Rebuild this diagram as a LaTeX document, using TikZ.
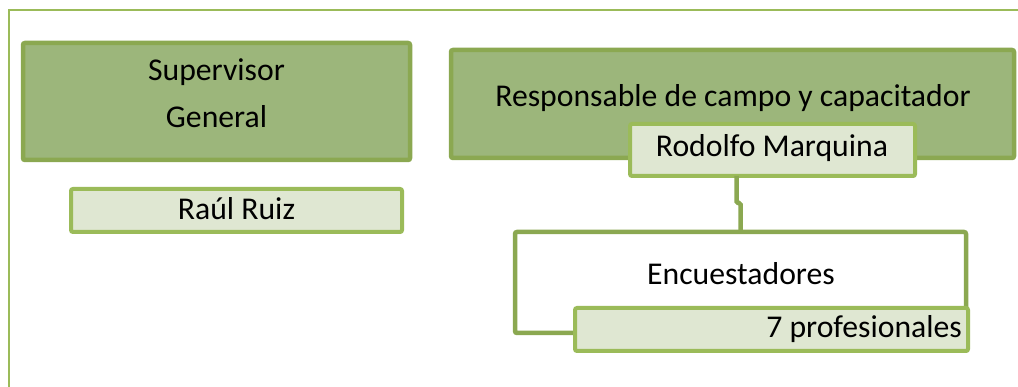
\documentclass[tikz,border=0pt]{standalone}
\usepackage{fontspec}
\setmainfont{Carlito}
\definecolor{darkfill}{HTML}{9CB67B}
\definecolor{darkline}{HTML}{8BA851}
\definecolor{lightfill}{HTML}{DFE7D2}
\definecolor{lightline}{HTML}{9BBB59}
\definecolor{frameline}{HTML}{9BBB59}
\tikzset{
  darkbox/.style={draw=darkline, fill=darkfill, line width=4.5pt, rounded corners=2pt, inner sep=0pt, outer sep=0pt},
  lightbox/.style={draw=lightline, fill=lightfill, line width=4pt, rounded corners=2pt, inner sep=0pt, outer sep=0pt},
  openbox/.style={draw=darkline, fill=white, line width=4.5pt, rounded corners=2pt, inner sep=0pt, outer sep=0pt},
  conn/.style={draw=darkline, line width=4.5pt, rounded corners=1.5pt},
  lbl/.style={inner sep=0pt, anchor=base, font=\fontsize{31.7}{38}\selectfont, text=black},
  frm/.style={draw=frameline, line width=2pt}
}
\begin{document}
\begin{tikzpicture}[x=1pt,y=-1pt]
\useasboundingbox (0,0) rectangle (1018,387);
\draw[frm] (9,387) -- (9,10) -- (1018,10);
\node[darkbox, minimum width=387, minimum height=117] (sup) at (216.5,101.5) {};
\node[lightbox, minimum width=331, minimum height=43] (raul) at (236.5,210.5) {};
\node[darkbox, minimum width=563, minimum height=108] (resp) at (732.5,104) {};
\node[openbox, minimum width=451, minimum height=101] (enc) at (740.5,282.5) {};
\node[lightbox, minimum width=285, minimum height=52] (rod) at (772.5,150) {};
\draw[conn] ([xshift=-4pt]enc.north |- rod.south) -- ++(0,27) -| (enc.north);
\node[lightbox, minimum width=393, minimum height=43] (prof) at (771.5,329.5) {};
\node[lbl] (t1) at (216.5,81) {Supervisor};
\node[lbl] (t2) at (216.5,128) {General};
\node[lbl] (t3) at (236.5,220) {Raúl Ruiz};
\node[lbl] (t4) at (733,107) {Responsable de campo y capacitador};
\node[lbl] (t5) at (772,157) {Rodolfo Marquina};
\node[lbl] (t6) at (741,285) {Encuestadores};
\node[lbl, anchor=base east] (t7) at (962,338) {7 profesionales};
\end{tikzpicture}
\end{document}
